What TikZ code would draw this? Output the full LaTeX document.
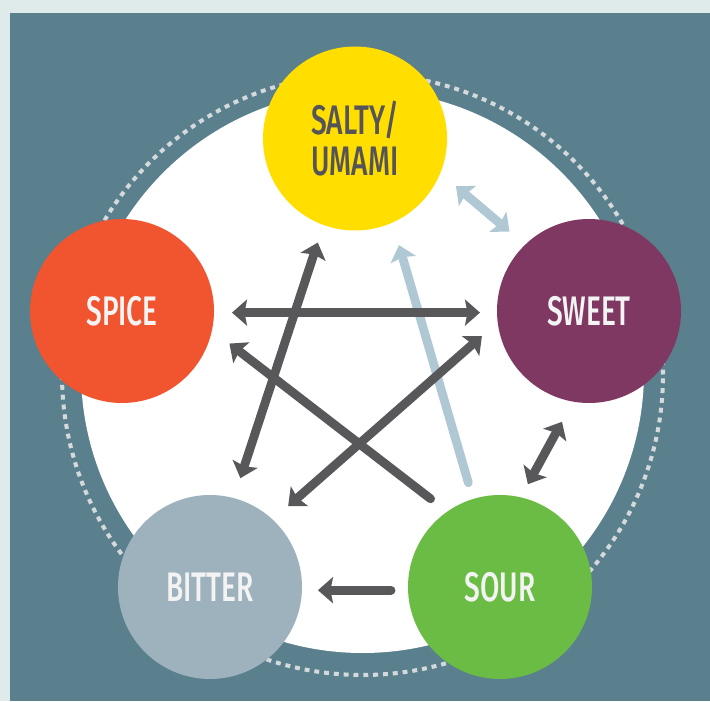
\documentclass[tikz,border=0pt]{standalone}
\usepackage{fontspec}
\usepackage{xcolor}
\usetikzlibrary{arrows.meta}
\newfontfamily\tastefont[FakeStretch=0.68]{Fira Sans Medium}
\definecolor{pagebg}{HTML}{DFEAEA}
\definecolor{panel}{HTML}{5A7F8D}
\definecolor{dotgray}{HTML}{D4D9DC}
\definecolor{saltyfill}{HTML}{FFDE00}
\definecolor{spicefill}{HTML}{F1552F}
\definecolor{sweetfill}{HTML}{7E3862}
\definecolor{sourfill}{HTML}{6ABC45}
\definecolor{bitterfill}{HTML}{9EB2BE}
\definecolor{linkdark}{HTML}{58585B}
\definecolor{linklight}{HTML}{AFC8D4}
\definecolor{darktext}{HTML}{545459}
\definecolor{lighttext}{HTML}{F3F3F3}

\begin{document}
\begin{tikzpicture}[
  taste/.style={circle,inner sep=0pt,outer sep=0pt,minimum size=3.68cm,text=lighttext,align=center,font=\tastefont\fontsize{23.5}{23}\selectfont},
  link/.style={draw=linkdark,line width=5pt,line cap=round},
  lightlink/.style={link,draw=linklight},
  dotring/.style={draw=dotgray,line width=2.3pt,dash pattern=on 2.8pt off 2.8pt},
  >={Stealth[length=0.3cm,width=0.52cm,inset=0.05cm]}
]
  \fill[pagebg] (0,0) rectangle (14.200,14.020);
  \fill[panel] (0.200,0) rectangle (14.200,13.760);
  \fill[white] (7.250,6.590) circle (5.630);
  \draw[dotring] (7.250,6.530) circle (6.010);
  \node[taste,fill=saltyfill,text=darktext] (salty) at (7.100,11.250) {SALTY/\\UMAMI};
  \node[taste,fill=spicefill] (spice) at (2.440,7.800) {SPICE};
  \node[taste,fill=sweetfill] (sweet) at (11.780,7.800) {SWEET};
  \node[taste,fill=sourfill] (sour) at (10.000,2.280) {SOUR};
  \node[taste,fill=bitterfill] (bitter) at (4.200,2.280) {BITTER};
  \draw[lightlink,->,shorten <=0.34cm,shorten >=0.47cm] (sour.107.8) -- (salty.-66.7);
  \draw[lightlink,<->,shorten <=0.41cm,shorten >=0.41cm] (salty.-22.2) -- (sweet.134.3);
  \draw[link,<->,shorten <=0.36cm,shorten >=0.34cm] (spice.-1.2) -- (sweet.181.9);
  \draw[link,->,shorten <=0.42cm,shorten >=0.44cm] (sour.125.4) -- (spice.-12.4);
  \draw[link,<->,shorten <=0.42cm,shorten >=0.37cm] (bitter.75.3) -- (salty.250.2);
  \draw[link,<->,shorten <=0.41cm,shorten >=0.42cm] (bitter.47.2) -- (sweet.187);
  \draw[link,<->,shorten <=0.46cm,shorten >=0.30cm] (sweet.260.1) -- (sour.77);
  \draw[link,->,shorten <=0.34cm,shorten >=0.32cm] (sour.182.5) -- (bitter.-2.5);
\end{tikzpicture}
\end{document}
